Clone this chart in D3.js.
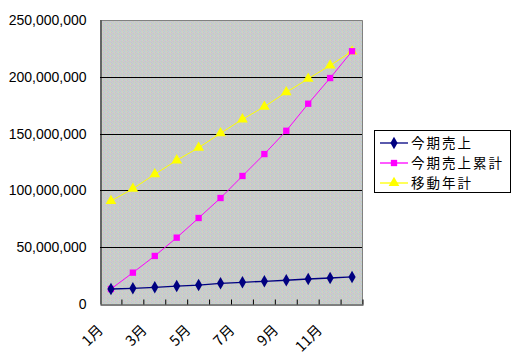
<!DOCTYPE html>
<html><head><meta charset="utf-8">
<script src="https://cdn.jsdelivr.net/npm/d3@7"></script>
<style>body{margin:0;background:#fff}svg{display:block}</style>
</head><body>
<script>
const months = ["1月","2月","3月","4月","5月","6月","7月","8月","9月","10月","11月","12月"];
const sales = [13.2,13.8,14.7,15.8,16.7,18.2,19.1,20.0,20.9,22.0,22.9,23.8].map(v=>v*1e6);
const cumulative = [13.2,27.6,42.3,58.4,75.7,93.3,112.7,132.0,152.5,176.3,198.9,222.5].map(v=>v*1e6);
const movingYear = [90.7,101.5,114.2,126.5,137.6,150.3,162.6,173.7,186.4,198.3,210.0,222.4].map(v=>v*1e6);
const yTicks = [0,50e6,100e6,150e6,200e6,250e6];
const seriesNames = ["今期売上","今期売上累計","移動年計"];

const W=513,H=354;
const svg=d3.select("body").append("svg").attr("width",W).attr("height",H);
const L=100,R=363,T=20,B=304;
const x=d3.scaleBand().domain(months).range([L,R]);
const y=d3.scaleLinear().domain([0,250e6]).range([B,T]);

// texture pattern
const defs=svg.append("defs");
const pat=defs.append("pattern").attr("id","tex").attr("width",4).attr("height",4).attr("patternUnits","userSpaceOnUse");
const cols=[["#d4c0d4","#bcd4d4","#d4d2bc","#c6c8c6"],["#ccceC0","#c6c8c6","#bcd4d2","#d4c0d0"],["#bcd2d4","#d0ccbe","#d2c2d0","#c6c8c6"],["#cac6ca","#c0d2d0","#d2d0bc","#bcd2d4"]];
cols.forEach((row,j)=>row.forEach((c,i)=>pat.append("rect").attr("x",i).attr("y",j).attr("width",1).attr("height",1).attr("fill",c).attr("shape-rendering","crispEdges")));
svg.append("rect").attr("x",L).attr("y",T).attr("width",R-L).attr("height",B-T).attr("fill","#c8cac8");
svg.append("rect").attr("x",L).attr("y",T).attr("width",R-L).attr("height",B-T).attr("fill","url(#tex)");

// gridlines
svg.append("g").selectAll("line").data(yTicks.filter(d=>d>0&&d<250e6)).join("line")
  .attr("x1",L).attr("x2",R).attr("y1",d=>Math.round(y(d))+0.5).attr("y2",d=>Math.round(y(d))+0.5)
  .attr("stroke","#000").attr("stroke-width",1);
// top/right border gray
svg.append("path").attr("d",`M${L},${T+0.5}H${R-0.5}V${B}`).attr("fill","none").attr("stroke","#808080");

// y axis
const yAxis=svg.append("g").attr("transform",`translate(${L+0.5},0)`)
  .call(d3.axisLeft(y).tickValues(yTicks).tickSize(0).tickPadding(14).tickFormat(d3.format(",")));
yAxis.select(".domain").attr("stroke","#000");
yAxis.selectAll("text").attr("font-family","Liberation Sans, Arial, sans-serif").attr("font-size",14).attr("fill","#000");

// x axis
const xAxis=svg.append("g").attr("transform",`translate(0,${B+0.5})`)
  .call(d3.axisBottom(x).tickSizeInner(-5).tickSizeOuter(0).tickFormat(""));
xAxis.select(".domain").attr("stroke","#000");
xAxis.selectAll(".tick line").attr("transform",`translate(${x.bandwidth()/2},0)`).attr("stroke","#000");
svg.append("g").selectAll("text").data(months.filter((d,i)=>i%2===0)).join("text")
  .attr("transform",d=>`translate(${x(d)+x.bandwidth()/2-7},${B+27}) rotate(-45)`)
  .attr("text-anchor","end").attr("font-family","Noto Sans CJK JP, sans-serif").attr("font-size",14.5).attr("fill","#000").text(d=>d);

const cx=d=>x(d)+x.bandwidth()/2;
const line=d3.line().x((d,i)=>cx(months[i])).y(d=>y(d));

const series=[
  {name:seriesNames[0],data:sales,color:"#000080",sym:d3.symbolDiamond,size:45,w:1.3},
  {name:seriesNames[1],data:cumulative,color:"#ff00ff",sym:d3.symbolSquare,size:40,w:1},
  {name:seriesNames[2],data:movingYear,color:"#ffff00",sym:d3.symbolTriangle,size:50,w:1}
];
[series[2],series[1],series[0]].forEach(s=>{
  svg.append("path").datum(s.data).attr("d",line).attr("fill","none").attr("stroke",s.color).attr("stroke-width",s.w);
  svg.append("g").selectAll("path").data(s.data).join("path")
    .attr("transform",(d,i)=>`translate(${cx(months[i])},${y(d)})`)
    .attr("d",d3.symbol(s.sym,s.size)).attr("fill",s.color);
});

// legend
const lg=svg.append("g");
lg.append("rect").attr("x",374.5).attr("y",130.5).attr("width",136).attr("height",62).attr("fill","#fff").attr("stroke","#000");
const ly=[143,163,183];
series.forEach((s,i)=>{
  lg.append("line").attr("x1",380).attr("x2",408).attr("y1",ly[i]).attr("y2",ly[i]).attr("stroke",s.color).attr("stroke-width",1.3);
  lg.append("path").attr("transform",`translate(394,${ly[i]})`).attr("d",d3.symbol(s.sym,s.size)).attr("fill",s.color);
  lg.append("text").attr("x",411).attr("y",ly[i]).attr("dy","0.36em").attr("font-family","Noto Sans CJK JP, sans-serif").attr("font-size",13.5).attr("letter-spacing","2px").attr("fill","#000").text(s.name);
});
</script>
</body></html>
